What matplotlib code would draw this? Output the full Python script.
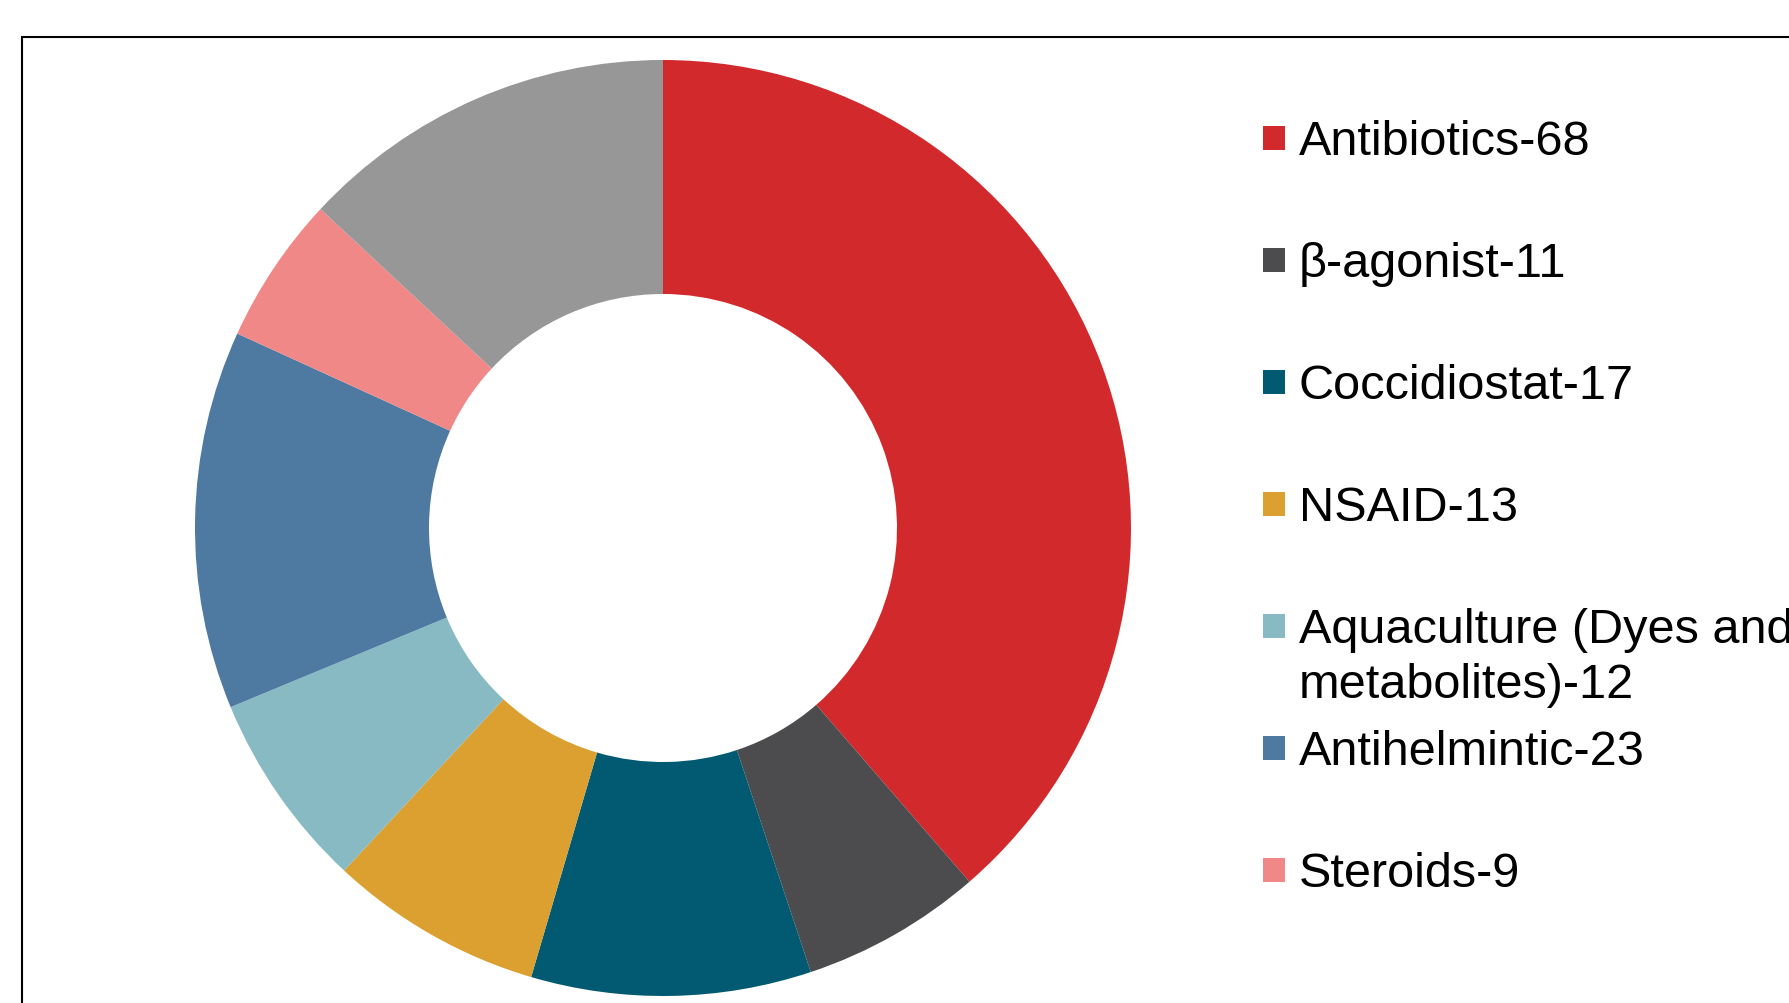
import matplotlib
matplotlib.use("Agg")
import matplotlib.pyplot as plt
from matplotlib.patches import Rectangle

plt.rcParams['font.family'] = ['Liberation Sans', 'DejaVu Sans']

# Residue classes and their counts
categories = ["Antibiotics", "\u03b2-agonist", "Coccidiostat", "NSAID",
              "Aquaculture (Dyes and\nmetabolites)", "Antihelmintic", "Steroids", "Others"]
counts = [68, 11, 17, 13, 12, 23, 9, 23]
colors = ["#D2292D", "#4C4C4E", "#025A72", "#DBA030",
          "#88BAC4", "#4E79A0", "#F08888", "#969796"]
# The last class is drawn in the ring only
legend_count = 7

W, H = 1790, 1004
fig = plt.figure(figsize=(W / 100, H / 100), dpi=100)
fig.patch.set_facecolor("white")

# Chart frame (extends past the right and bottom edges)
left_px, top_px = 22, 38
frame = Rectangle((left_px / W, -0.2), 2.0, (H - top_px) / H + 0.2,
                  transform=fig.transFigure, fill=False,
                  edgecolor="black", linewidth=1.5)
fig.add_artist(frame)

# Donut ring
cx, cy, r = 663, 529, 468
ax = fig.add_axes([(cx - r) / W, (H - cy - r) / H, 2 * r / W, 2 * r / H])
ax.pie(counts, colors=colors, startangle=90, counterclock=False, radius=1.0,
       wedgeprops=dict(width=0.5, linewidth=0, antialiased=True))
ax.set_xlim(-1, 1)
ax.set_ylim(-1, 1)
ax.set_aspect("equal")
ax.axis("off")

# Legend, one row per class
row0, row_step = 139, 122
mk_x, mk_w, mk_h = 1263, 22, 24
txt_x = 1299
line_step = 55
for i in range(legend_count):
    yc = row0 + i * row_step
    fig.add_artist(Rectangle((mk_x / W, (H - yc - mk_h / 2) / H), mk_w / W, mk_h / H,
                             transform=fig.transFigure, facecolor=colors[i],
                             edgecolor="none"))
    label = f"{categories[i]}-{counts[i]}"
    for j, line in enumerate(label.split("\n")):
        base = yc + 16 + j * line_step
        fig.text(txt_x / W, (H - base) / H, line, fontsize=35,
                 ha="left", va="baseline", color="black")

fig.savefig("out.png", dpi=100, facecolor="white")
